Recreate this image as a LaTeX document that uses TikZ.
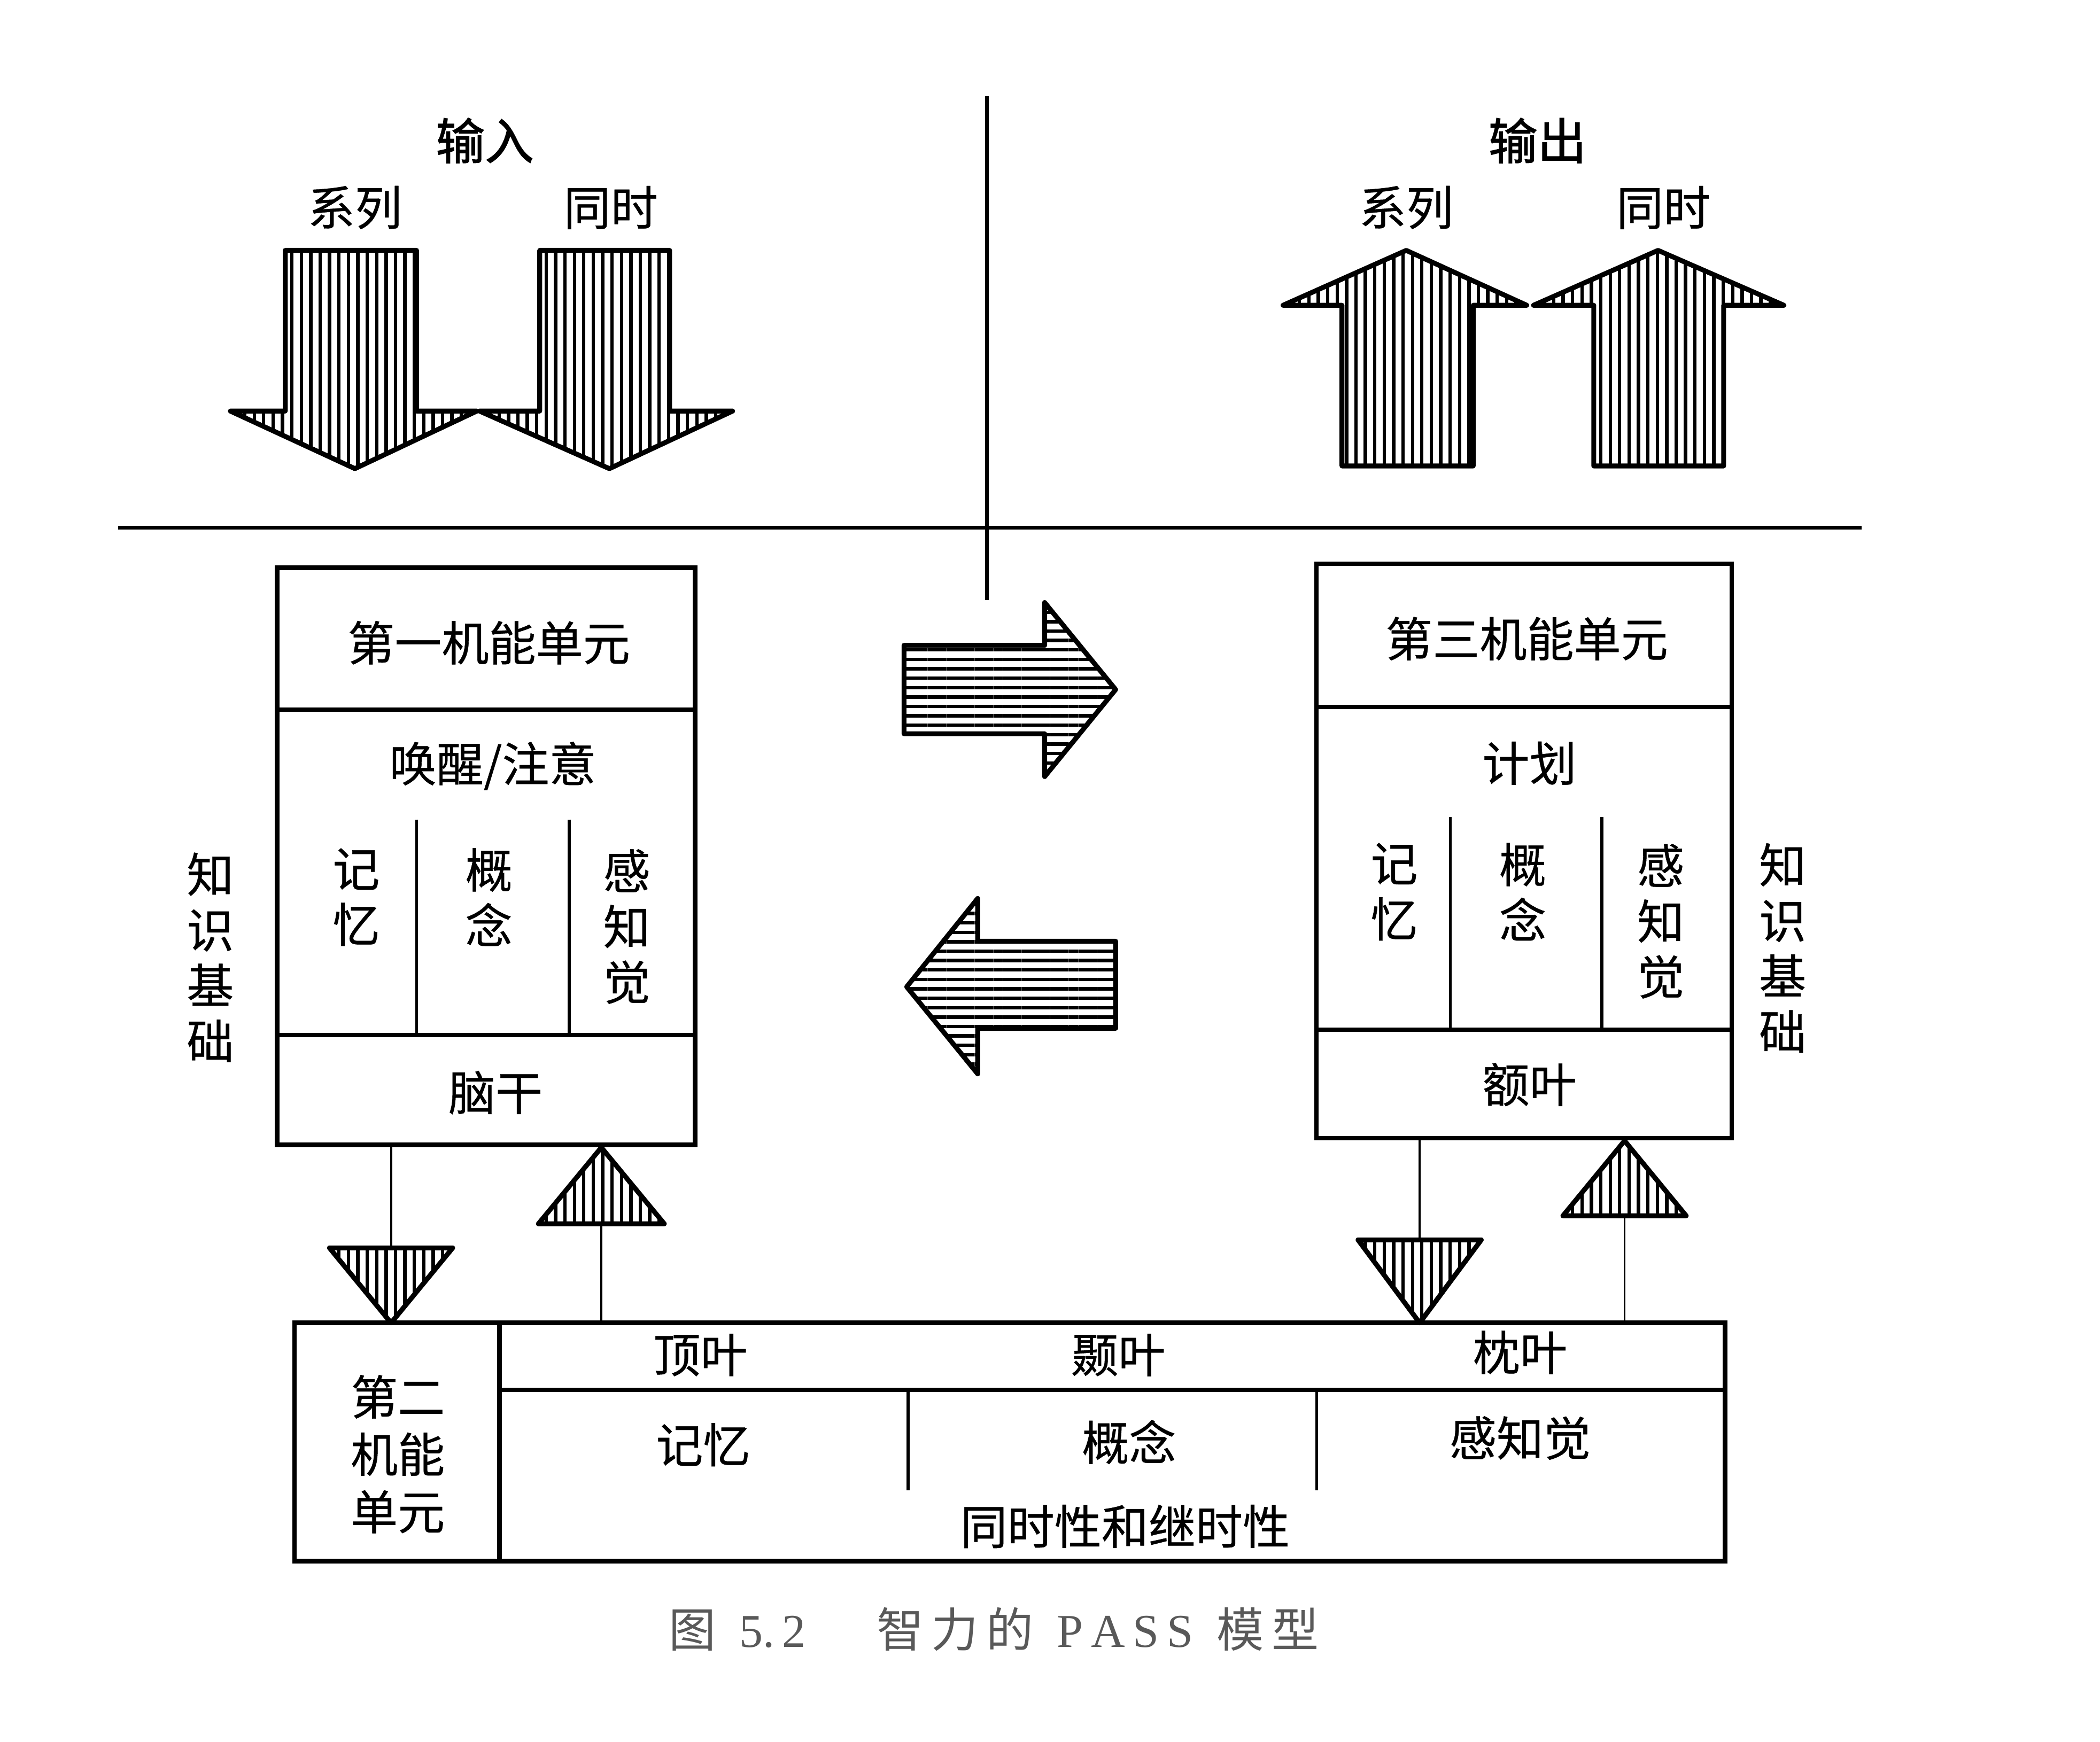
\documentclass[tikz,border=0pt]{standalone}
\usepackage{fontspec}
\setmainfont{Noto Sans CJK SC}[FakeBold=0.5]
\newfontfamily\titlefont[FakeBold=1.6]{Noto Sans CJK SC}
\newfontfamily\capfont{Noto Sans CJK SC}
\newfontfamily\latinfont{Liberation Serif}
\usetikzlibrary{patterns.meta}

\tikzset{
  unitbox/.style={draw, line width=2.4pt},
  divider/.style={line width=1.5pt},
  link/.style={line width=1.1pt},
  frame/.style={line width=2pt},
  hatchv/.style={draw, line width=2.6pt, line join=round,
    pattern={Lines[angle=90,distance=5pt,line width=1.8pt]}},
  hatchh/.style={draw, line width=2.6pt, line join=round,
    pattern={Lines[angle=0,distance=5pt,line width=1.8pt]}},
  lbl/.style={inner sep=0pt, font=\fontsize{25}{30}\selectfont},
  vlbl/.style={inner sep=0pt, align=center, font=\fontsize{25}{29.5}\selectfont},
  head/.style={inner sep=0pt, font=\fontsize{26}{30}\selectfont\titlefont}
}

\begin{document}
\begin{tikzpicture}[x=0.025cm, y=-0.025cm]
  \useasboundingbox (0,0) rectangle (1568,1301);

  % quadrant lines
  \draw[frame] (737,72) -- (737,448);
  \draw[frame] (88,394) -- (1390,394);

  % input side
  \node[head] (in) at (362,105) {输入};
  \node[lbl] (inser) at (265,155) {系列};
  \node[lbl] (insim) at (456,155) {同时};
  \draw[hatchv] (213,187) -- (311,187) -- (311,307) -- (356,307) -- (265,350)
    -- (172,307) -- (213,307) -- cycle;
  \draw[hatchv] (403,187) -- (500,187) -- (500,307) -- (547,307) -- (455,350)
    -- (358,307) -- (403,307) -- cycle;

  % output side
  \node[head] (out) at (1148,105) {输出};
  \node[lbl] (outser) at (1050,155) {系列};
  \node[lbl] (outsim) at (1242,155) {同时};
  \draw[hatchv] (1002,348) -- (1100,348) -- (1100,228) -- (1140,228) -- (1050,187)
    -- (958,228) -- (1002,228) -- cycle;
  \draw[hatchv] (1190,348) -- (1287,348) -- (1287,228) -- (1332,228) -- (1238,187)
    -- (1145,228) -- (1190,228) -- cycle;

  % first unit
  \draw[unitbox] (207,424) rectangle (519,855);
  \draw[unitbox] (207,530) -- (519,530);
  \draw[unitbox] (207,773) -- (519,773);
  \draw[divider] (311,612) -- (311,773);
  \draw[divider] (425,612) -- (425,773);
  \node[lbl] (unit1) at (365,480) {第一机能单元};
  \node[lbl] (arousal) at (368,572) {唤醒/注意};
  \node[vlbl] (mem1) at (266,670) {记\\忆};
  \node[vlbl] (con1) at (365,670) {概\\念};
  \node[vlbl] (per1) at (468,692) {感\\知\\觉};
  \node[lbl] (stem) at (370,816) {脑干};
  \node[vlbl] (know1) at (157,715) {知\\识\\基\\础};
  \coordinate (unit1out) at (292,855);
  \coordinate (unit1in) at (449,857);

  % third unit
  \draw[unitbox] (983,421) rectangle (1293,850);
  \draw[unitbox] (983,528) -- (1293,528);
  \draw[unitbox] (983,769) -- (1293,769);
  \draw[divider] (1083,610) -- (1083,769);
  \draw[divider] (1196,610) -- (1196,769);
  \node[lbl] (unit3) at (1140,477) {第三机能单元};
  \node[lbl] (plan) at (1142,570) {计划};
  \node[vlbl] (mem3) at (1041,666) {记\\忆};
  \node[vlbl] (con3) at (1137,666) {概\\念};
  \node[vlbl] (per3) at (1240,688) {感\\知\\觉};
  \node[lbl] (frontal) at (1142,810) {额叶};
  \node[vlbl] (know3) at (1331,708) {知\\识\\基\\础};
  \coordinate (unit3out) at (1060,850);
  \coordinate (unit3in) at (1213,852);

  % exchange arrows
  \draw[hatchh] (675,482) -- (780,482) -- (780,450) -- (833,515) -- (780,580)
    -- (780,548) -- (675,548) -- cycle;
  \draw[hatchh] (833,703) -- (730,703) -- (730,671) -- (677,737) -- (730,802)
    -- (730,768) -- (833,768) -- cycle;

  % second unit
  \draw[unitbox] (220,988) rectangle (1288,1166);
  \draw[unitbox] (373,988) -- (373,1166);
  \draw[unitbox] (373,1038) -- (1288,1038);
  \draw[divider] (678,1038) -- (678,1113);
  \draw[divider] (983,1038) -- (983,1113);
  \node[vlbl, font=\fontsize{25}{30.5}\selectfont] (unit2) at (297,1086) {第二\\机能\\单元};
  \node[lbl] (parietal) at (523,1012) {顶叶};
  \node[lbl] (temporal) at (835,1012) {颞叶};
  \node[lbl] (occipital) at (1135,1010) {枕叶};
  \node[lbl] (mem2) at (525,1079) {记忆};
  \node[lbl] (con2) at (843,1077) {概念};
  \node[lbl] (per2) at (1135,1074) {感知觉};
  \node[lbl] (simsuc) at (840,1140) {同时性和继时性};
  \coordinate (unit2a) at (292,988);
  \coordinate (unit2b) at (449,988);
  \coordinate (unit2c) at (1060,988);
  \coordinate (unit2d) at (1213,988);

  % links with triangles
  \coordinate (tri1) at (292,932);
  \coordinate (tri2) at (449,914);
  \coordinate (tri3) at (1060,926);
  \coordinate (tri4) at (1213,908);
  \draw[link] (unit1out) -- (tri1);
  \draw[link] (tri2) -- (unit2b);
  \draw[link] (unit3out) -- (tri3);
  \draw[link] (tri4) -- (unit2d);
  \draw[hatchv] (246,932) -- (338,932) -- (unit2a) -- cycle;
  \draw[hatchv] (402,914) -- (496,914) -- (unit1in) -- cycle;
  \draw[hatchv] (1014,926) -- (1106,926) -- (unit2c) -- cycle;
  \draw[hatchv] (1167,908) -- (1259,908) -- (unit3in) -- cycle;

  % caption
  \node[inner sep=0pt, text=black!65, font=\fontsize{25}{30}\selectfont\capfont] (caption) at (742,1217)
    {图\enspace{\latinfont 5.\,2}\quad\enspace 智\,力\,的\enspace{\latinfont P\,A\,S\,S}\enspace 模\,型};
\end{tikzpicture}
\end{document}
